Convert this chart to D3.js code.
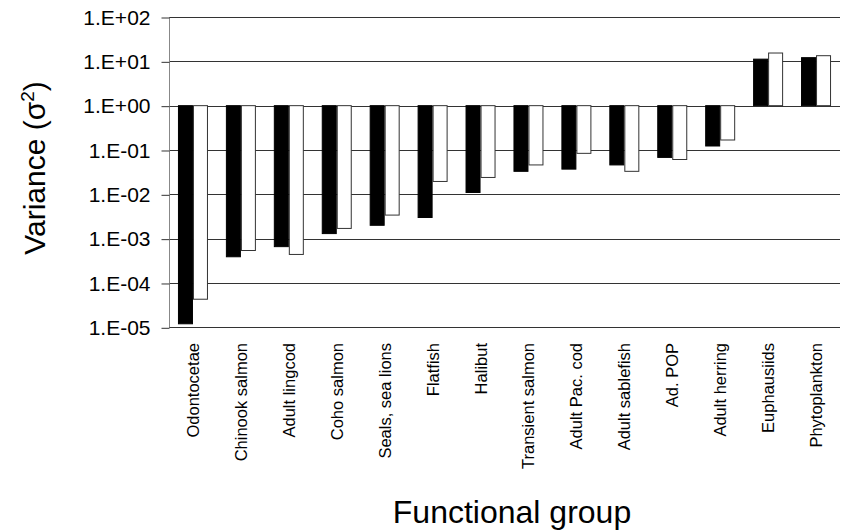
<!DOCTYPE html>
<html>
<head>
<meta charset="utf-8">
<script src="https://cdn.jsdelivr.net/npm/d3@7"></script>
<style>
  body { margin: 0; background: #fff; }
  text { font-family: Arial, "Liberation Sans", sans-serif; fill: #000; }
</style>
</head>
<body>
<div id="chart"></div>
<script>
// functional groups, left to right
var groups = ["Odontocetae", "Chinook salmon", "Adult lingcod", "Coho salmon",
  "Seals, sea lions", "Flatfish", "Halibut", "Transient salmon", "Adult Pac. cod",
  "Adult sablefish", "Ad. POP", "Adult herring", "Euphausiids", "Phytoplankton"];

// black bars
var blackVals = [1.2e-5, 3.9e-4, 6.6e-4, 1.3e-3, 2.0e-3, 3.0e-3, 1.1e-2,
  3.3e-2, 3.7e-2, 4.6e-2, 6.8e-2, 0.123, 11.2, 12.1];
// white bars
var whiteVals = [4.3e-5, 5.4e-4, 4.4e-4, 1.7e-3, 3.4e-3, 1.95e-2, 2.4e-2,
  4.6e-2, 8.4e-2, 3.3e-2, 6.1e-2, 0.168, 15.4, 13.4];

var yTicks = [1e-5, 1e-4, 1e-3, 1e-2, 1e-1, 1e0, 1e1, 1e2];
var yTickLabels = ["1.E-05", "1.E-04", "1.E-03", "1.E-02", "1.E-01", "1.E+00", "1.E+01", "1.E+02"];

var Width = 846, Height = 530;
var plotLeft = 169, plotRight = 840, plotTop = 17, plotBottom = 327.3;

var svg = d3.select("#chart").append("svg")
  .attr("width", Width)
  .attr("height", Height);

var x0 = d3.scaleBand().domain(groups).range([plotLeft, plotRight]);
var x1 = d3.scaleBand().domain(["black", "white"]).range([0, 30]);
var y = d3.scaleLog().domain([1e-5, 1e2]).range([plotBottom, plotTop]);

// gridlines
svg.append("g").selectAll("line").data(yTicks).enter().append("line")
  .attr("x1", plotLeft).attr("x2", plotRight)
  .attr("y1", function(d) { return Math.round(y(d)) + 0.5; })
  .attr("y2", function(d) { return Math.round(y(d)) + 0.5; })
  .attr("stroke", "#333").attr("stroke-width", 1);

// y axis
var yAxis = d3.axisLeft(y).tickValues(yTicks).tickSize(8).tickPadding(11)
  .tickFormat(function(d, i) { return yTickLabels[i]; });
var ga = svg.append("g").attr("transform", "translate(" + (plotLeft + 0.5) + ",0.5)").call(yAxis);
ga.select(".domain").attr("stroke", "#888").attr("d", "M0," + Math.round(plotTop) + "V" + Math.round(plotBottom));
ga.selectAll(".tick line").attr("stroke", "#333");
ga.selectAll(".tick text").style("font-size", "21px").attr("font-family", "Arial, 'Liberation Sans', sans-serif");

// bars from 1.E+00
var data = groups.map(function(g, i) {
  return { g: g, vals: [{ k: "black", v: blackVals[i] }, { k: "white", v: whiteVals[i] }] };
});
var gg = svg.append("g").selectAll("g").data(data).enter().append("g")
  .attr("transform", function(d) { return "translate(" + (x0(d.g) + x0.bandwidth() / 2 - 15) + ",0)"; });
gg.selectAll("rect").data(function(d) { return d.vals; }).enter().append("rect")
  .attr("x", function(d) { return x1(d.k) + 0.5; })
  .attr("width", x1.bandwidth() - 1)
  .attr("y", function(d) { return Math.min(y(d.v), y(1)); })
  .attr("height", function(d) { return Math.abs(y(d.v) - y(1)); })
  .attr("fill", function(d) { return d.k === "black" ? "#000" : "#fff"; })
  .attr("stroke", function(d) { return d.k === "black" ? "#000" : "#333"; })
  .attr("stroke-width", 1);

// category labels
svg.append("g").selectAll("text").data(groups).enter().append("text")
  .attr("transform", function(d) { return "translate(" + (x0(d) + x0.bandwidth() / 2 + 6) + ",343) rotate(-90)"; })
  .attr("text-anchor", "end")
  .style("font-size", "16.5px")
  .text(function(d) { return d; });

// axis titles
var yt = svg.append("text")
  .attr("transform", "translate(45,168) rotate(-90)")
  .attr("text-anchor", "middle")
  .style("font-size", "30px");
yt.append("tspan").text("Variance (\u03c3");
yt.append("tspan").attr("dy", "-11").style("font-size", "19px").text("2");
yt.append("tspan").attr("dy", "11").text(")");

svg.append("text")
  .attr("x", 512).attr("y", 523)
  .attr("text-anchor", "middle")
  .style("font-size", "32px")
  .text("Functional group");
</script>
</body>
</html>
